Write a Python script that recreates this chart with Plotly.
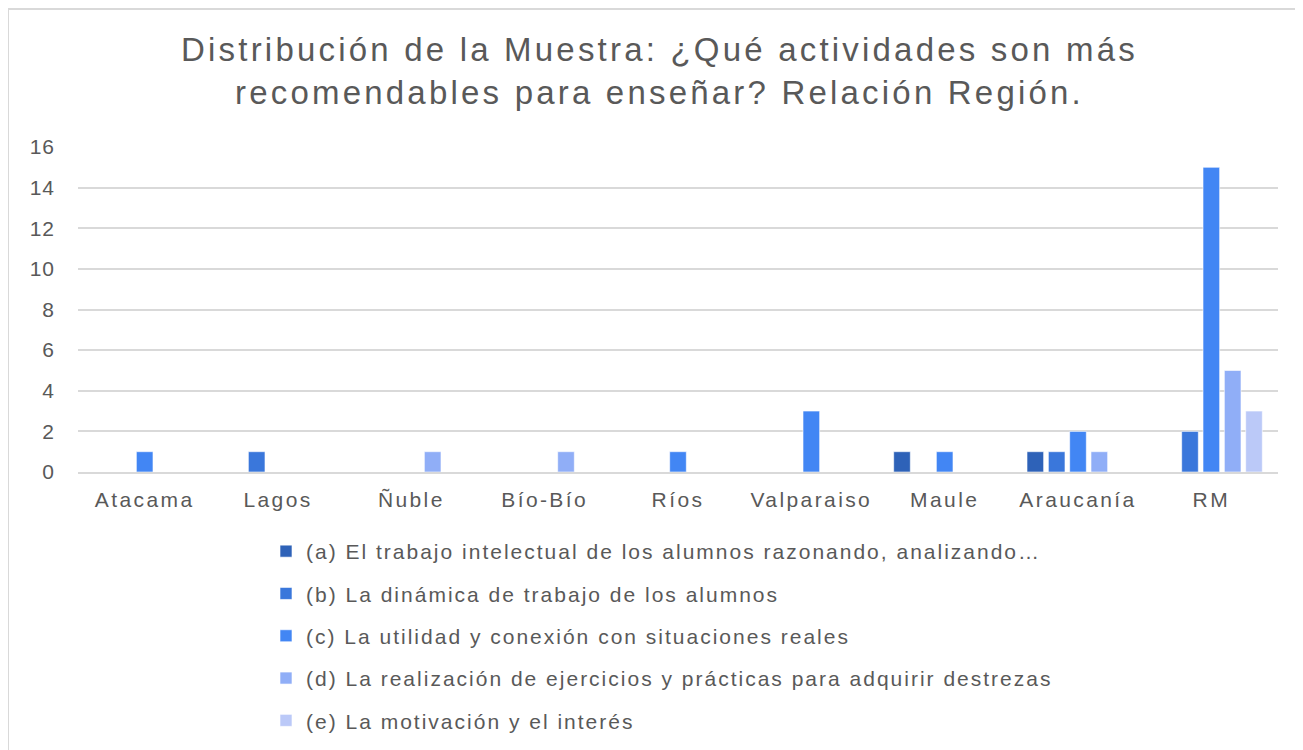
import plotly.graph_objects as go

categories = ["Atacama", "Lagos", "Ñuble", "Bío-Bío", "Ríos", "Valparaiso", "Maule", "Araucanía", "RM"]
series_names = [
    "(a) El trabajo intelectual de los alumnos razonando, analizando…",
    "(b) La dinámica de trabajo de los alumnos",
    "(c) La utilidad y conexión con situaciones reales",
    "(d) La realización de ejercicios y prácticas para adquirir destrezas",
    "(e) La motivación y el interés",
]
a_vals = [0, 0, 0, 0, 0, 0, 1, 1, 0]
b_vals = [0, 1, 0, 0, 0, 0, 0, 1, 2]
c_vals = [1, 0, 0, 0, 1, 3, 1, 2, 15]
d_vals = [0, 0, 1, 1, 0, 0, 0, 1, 5]
e_vals = [0, 0, 0, 0, 0, 0, 0, 0, 3]
colors = ["#2E62B8", "#3A77DB", "#4286F4", "#90AEF7", "#BBC9F8"]
y_ticks = [0, 2, 4, 6, 8, 10, 12, 14, 16]
title_lines = ["Distribución de la Muestra: ¿Qué actividades son más",
               "recomendables para enseñar? Relación Región."]

FONT = "Liberation Sans, Arial, sans-serif"
GREY = "#595959"


def spaced(text, px):
    return f'<span style="letter-spacing:{px}px">{text}</span>'


fig = go.Figure()
for i, (name, vals) in enumerate(zip(series_names, [a_vals, b_vals, c_vals, d_vals, e_vals])):
    fig.add_trace(go.Bar(
        x=categories, y=vals, name=spaced(name, 2), legendgroup=f"g{i}",
        marker=dict(color=colors[i], line=dict(color="rgba(255,255,255,0.6)", width=1)),
    ))

# figure coordinates (the page adds an 8px body margin)
L, R, T, B = 70, 33, 139, 286
W, H = 1303, 750
pw = W - L - R
ph = H - T - B


def px2paper_x(px):
    return (px - L) / pw


def px2paper_y(py):
    return (H - B - py) / ph


fig.update_layout(
    width=W, height=H,
    margin=dict(l=L, r=R, t=T, b=B, autoexpand=False),
    paper_bgcolor="white", plot_bgcolor="white",
    barmode="group", bargap=0.2, bargroupgap=0.22,
    font=dict(family=FONT, color=GREY, size=21),
    title=dict(
        text="<br>".join(spaced(t, 3.2) for t in title_lines),
        x=0.5, xanchor="center", y=1 - 53 / H, yanchor="top",
        font=dict(family=FONT, size=33, color=GREY),
    ),
    xaxis=dict(
        showline=True, linecolor="#D9D9D9", linewidth=2,
        showgrid=False, ticks="", tickfont=dict(size=21, color=GREY),
        tickvals=categories, ticktext=[spaced(c, 2.4) for c in categories],
        ticklabelstandoff=8,
    ),
    yaxis=dict(
        range=[0, 16], tickvals=y_ticks, ticktext=[spaced(str(v), 1) for v in y_ticks],
        showgrid=True, gridcolor="#D9D9D9", gridwidth=2,
        zeroline=False, showline=False, ticks="", tickfont=dict(size=21, color=GREY),
        ticklabelstandoff=22,
    ),
    legend=dict(
        orientation="v", x=px2paper_x(258), xanchor="left", y=px2paper_y(523), yanchor="top",
        traceorder="grouped", tracegroupgap=12,
        font=dict(size=21, color=GREY), bgcolor="rgba(0,0,0,0)",
        itemwidth=30,
    ),
    showlegend=True,
    shapes=[
        dict(type="line", xref="paper", yref="paper",
             x0=px2paper_x(0), x1=px2paper_x(1303), y0=px2paper_y(1), y1=px2paper_y(1),
             line=dict(color="#D9D9D9", width=2)),
        dict(type="line", xref="paper", yref="paper",
             x0=px2paper_x(0), x1=px2paper_x(0), y0=px2paper_y(1), y1=px2paper_y(752),
             line=dict(color="#D9D9D9", width=2)),
    ],
)

fig.write_html("out.html")
